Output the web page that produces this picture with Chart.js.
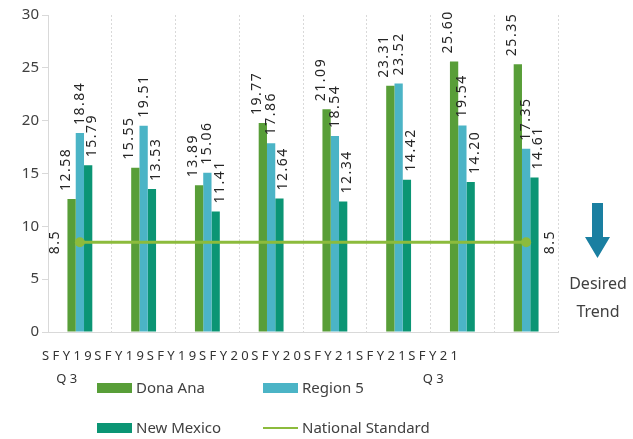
<!DOCTYPE html>
<html>
<head>
<meta charset="utf-8">
<script src="https://cdn.jsdelivr.net/npm/chart.js@4/dist/chart.umd.min.js"></script>
<style>
  body { margin: 0; background: #fff; font-family: 'Noto Sans', sans-serif; }
  #wrap { position: relative; width: 633px; height: 439px; }
  #legend { position: absolute; left: 0; top: 0; width: 633px; height: 439px; pointer-events: none; }
  .item { position: absolute; font-size: 15px; color: #404040; line-height: 20px; white-space: nowrap; }
  .swatch { position: absolute; width: 35px; height: 10px; }
  .lineSwatch { position: absolute; width: 35px; height: 2px; }
  #trend { position: absolute; left: 560px; top: 195px; width: 76px; text-align: center; font-size: 16px; color: #404040; line-height: 28px; }
</style>
</head>
<body>
<div id="wrap">
  <canvas id="chart" width="633" height="439"></canvas>
  <div id="legend"></div>
  <div id="trend">
    <svg width="76" height="68" viewBox="0 0 76 68">
      <polygon points="32,8 43,8 43,42 50,42 37.5,63 25,42 32,42" fill="#1a7fa1"/>
    </svg>
    <div style="margin-top:-2px">Desired<br>Trend</div>
  </div>
</div>
<script>
// categories (Excel squeezed the axis labels, only first and last keep their second line)
const categories = [['S F Y 1 9', 'Q 3'], ['S F Y 1 9'], ['S F Y 1 9'], ['S F Y 2 0'],
                    ['S F Y 2 0'], ['S F Y 2 1'], ['S F Y 2 1'], ['S F Y 2 1', 'Q 3']];
const donaAna = [12.58, 15.55, 13.89, 19.77, 21.09, 23.31, 25.60, 25.35];
const region5 = [18.84, 19.51, 15.06, 17.86, 18.54, 23.52, 19.54, 17.35];
const newMexico = [15.79, 13.53, 11.41, 12.64, 12.34, 14.42, 14.20, 14.61];
const nationalStandard = [8.5, 8.5, 8.5, 8.5, 8.5, 8.5, 8.5, 8.5];
const yMin = 0, yMax = 30, yStep = 5;

const seriesNames = ['Dona Ana', 'Region 5', 'New Mexico', 'National Standard'];
const colors = ['#589e38', '#4bb4c6', '#0b9574', '#8cbb3c'];

// html legend, two columns like the excel one
const legendPos = [[97, 388], [263, 388], [97, 428], [263, 428]];
const legend = document.getElementById('legend');
seriesNames.forEach((name, i) => {
    const sw = document.createElement('div');
    sw.className = i === 3 ? 'lineSwatch' : 'swatch';
    sw.style.background = colors[i];
    sw.style.left = legendPos[i][0] + 'px';
    sw.style.top = (legendPos[i][1] - (i === 3 ? 1 : 5)) + 'px';
    legend.appendChild(sw);
    const t = document.createElement('div');
    t.className = 'item';
    t.textContent = name;
    t.style.left = (legendPos[i][0] + 39) + 'px';
    t.style.top = (legendPos[i][1] - 11) + 'px';
    legend.appendChild(t);
});

// rotated value labels above bars + the two 8.5 labels
const valueLabels = {
    id: 'valueLabels',
    afterDatasetsDraw(chart) {
        const ctx = chart.ctx;
        const shift = [-6, 0, 4];
        chart.data.datasets.forEach((ds, di) => {
            const meta = chart.getDatasetMeta(di);
            const last = ds.data.length - 1;
            meta.data.forEach((el, i) => {
                ctx.save();
                ctx.font = '14px "Noto Sans"';
                ctx.letterSpacing = '1.5px';
                ctx.fillStyle = '#262626';
                ctx.textBaseline = 'middle';
                if (ds.type === 'line') {
                    if (i !== 0 && i !== last) { ctx.restore(); return; }
                    const dx = i === 0 ? -25 : 24;
                    ctx.translate(el.x + dx, el.y);
                    ctx.rotate(-Math.PI / 2);
                    ctx.textAlign = 'center';
                    ctx.fillText(String(ds.data[i]), 0, 0);
                } else {
                    ctx.translate(el.x + shift[di], el.y);
                    ctx.rotate(-Math.PI / 2);
                    ctx.textAlign = 'left';
                    ctx.fillText(ds.data[i].toFixed(2), 8, 0);
                }
                ctx.restore();
            });
        });
    }
};

// category labels written as one run under the axis, the way excel squashed them
const squashedLabels = {
    id: 'squashedLabels',
    afterDraw(chart) {
        const ctx = chart.ctx;
        const area = chart.chartArea;
        ctx.save();
        ctx.font = '13px "Noto Sans"';
        ctx.fillStyle = '#333';
        ctx.textAlign = 'center';
        ctx.textBaseline = 'middle';
        let x = area.left - 6;
        chart.data.labels.forEach(lines => {
            const w = ctx.measureText(lines[0]).width;
            const cx = x + w / 2;
            lines.forEach((line, k) => ctx.fillText(line, cx, area.bottom + 24 + k * 23));
            x += w + 2.7;
        });
        ctx.restore();
    }
};

new Chart(document.getElementById('chart'), {
    type: 'bar',
    data: {
        labels: categories,
        datasets: [
            { label: seriesNames[0], data: donaAna, backgroundColor: colors[0], order: 1 },
            { label: seriesNames[1], data: region5, backgroundColor: colors[1], order: 1 },
            { label: seriesNames[2], data: newMexico, backgroundColor: colors[2], order: 1 },
            {
                type: 'line', label: seriesNames[3], data: nationalStandard,
                borderColor: colors[3], backgroundColor: colors[3], borderWidth: 3,
                pointRadius: c => (c.dataIndex === 0 || c.dataIndex === nationalStandard.length - 1) ? 5 : 0,
                pointBorderWidth: 0, order: 0
            }
        ]
    },
    options: {
        responsive: false,
        animation: false,
        layout: { padding: { top: 15, right: 75, left: 0, bottom: 0 } },
        datasets: { bar: { categoryPercentage: 0.39, barPercentage: 1 } },
        plugins: { legend: { display: false }, tooltip: { enabled: false } },
        scales: {
            x: {
                grid: { offset: true, color: '#d9d9d9', drawTicks: false },
                border: { color: '#d9d9d9', dash: [2, 2] },
                ticks: { display: false },
                afterFit: s => { s.height = 107; }
            },
            y: {
                min: yMin, max: yMax,
                ticks: { stepSize: yStep, font: { size: 15, family: 'Noto Sans' }, color: '#404040', padding: 3 },
                grid: { drawOnChartArea: false, color: '#d9d9d9', tickLength: 6 },
                border: { color: '#d9d9d9' },
                afterFit: s => { s.width = 48; }
            }
        }
    },
    plugins: [valueLabels, squashedLabels]
});
</script>
</body>
</html>
